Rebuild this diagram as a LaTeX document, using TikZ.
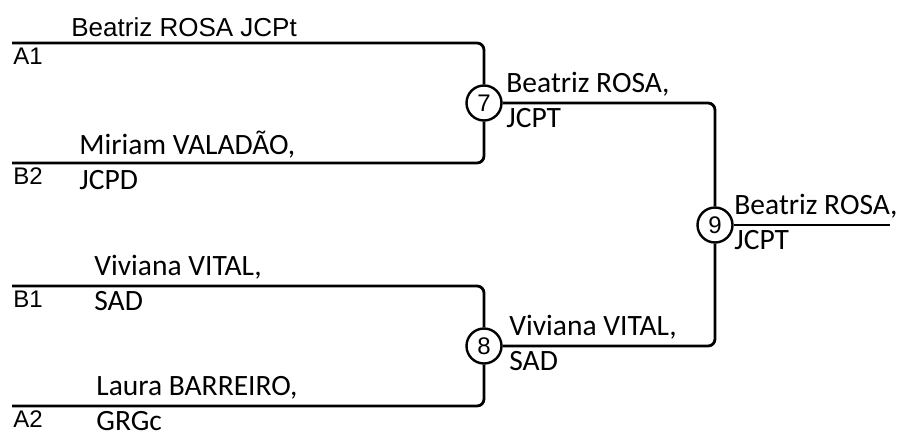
\documentclass[tikz,border=0pt]{standalone}
\usepackage{fontspec}
\setmainfont{Carlito}
\newfontfamily\arialfont{Liberation Sans}
\usetikzlibrary{positioning}
\tikzset{
  every picture/.style={line width=2.8pt},
  wire/.style={line width=2.8pt,rounded corners=7pt},
  mnode/.style={draw,circle,minimum size=35pt,inner sep=0pt,line width=2.4pt,font=\arialfont\fontsize{24}{24}\selectfont},
  pname/.style={anchor=west,align=left,inner sep=0pt,yshift=-2.5pt,
    execute at begin node=\strut,execute at end node=\strut,
    font=\fontsize{29.5}{35}\selectfont},
  aname/.style={anchor=base west,inner sep=0pt,font=\arialfont\fontsize{26}{26}\selectfont},
  seed/.style={anchor=base west,inner sep=0pt,font=\arialfont\fontsize{24}{24}\selectfont},
}

\begin{document}
\begin{tikzpicture}[x=1pt,y=-1pt]
\useasboundingbox (0,0) rectangle (897,432);
% match circles
\node[mnode] (m7) at (484,103) {7};
\node[mnode] (m8) at (484,346) {8};
\node[mnode] (m9) at (715,225) {9};
% free line ends
\coordinate (a1) at (12,43);
\coordinate (b2) at (12,163);
\coordinate (b1) at (12,286);
\coordinate (a2) at (12,406);
\coordinate (win) at (890,225);
% bracket
\draw[wire] (a1) -| (m7);
\draw[wire] (b2) -| (m7);
\draw[wire] (b1) -| (m8);
\draw[wire] (a2) -| (m8);
\draw[wire] (m7) -| (m9);
\draw[wire] (m8) -| (m9);
\draw[wire] (m9) -- (win);
% seeds
\node[seed] (sA1) at (12,64) {A1};
\node[seed] (sB2) at (12,184) {B2};
\node[seed] (sB1) at (12,307) {B1};
\node[seed] (sA2) at (12,427) {A2};
% players
\node[aname] (p1) at (70,36) {Beatriz ROSA JCPt};
\node[pname] (p2) at (78,163) {Miriam VALADÃO,\\JCPD};
\node[pname] (p3) at (93,286) {Viviana VITAL,\\SAD};
\node[pname] (p4) at (95,406) {Laura BARREIRO,\\GRGc};
% winners
\node[pname] (w7) at (505,103) {Beatriz ROSA,\\JCPT};
\node[pname] (w8) at (508,346) {Viviana VITAL,\\SAD};
\node[pname] (w9) at (733,225) {Beatriz ROSA,\\JCPT};
\end{tikzpicture}
\end{document}
